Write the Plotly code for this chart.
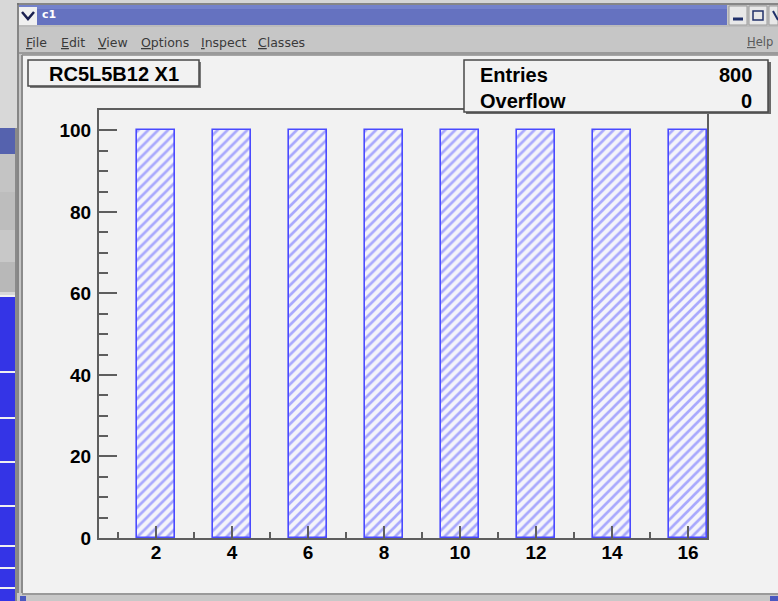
import plotly.graph_objects as go

# ---- data ----
bin_centers = [2, 4, 6, 8, 10, 12, 14, 16]
bin_counts = [100, 100, 100, 100, 100, 100, 100, 100]
x_tick_vals = [2, 4, 6, 8, 10, 12, 14, 16]
x_tick_text = ["2", "4", "6", "8", "10", "12", "14", "16"]
x_minor_vals = [1, 3, 5, 7, 9, 11, 13, 15]
y_tick_vals = [0, 20, 40, 60, 80, 100]
y_tick_text = ["0", "20", "40", "60", "80", "100"]
y_minor_vals = [5, 10, 15, 25, 30, 35, 45, 50, 55, 65, 70, 75, 85, 90, 95]
hist_title = "RC5L5B12 X1"
stats_labels = ["Entries", "Overflow"]
stats_values = ["800", "0"]
menu_items = ["<u>F</u>ile", "<u>E</u>dit", "<u>V</u>iew", "<u>O</u>ptions", "<u>I</u>nspect", "<u>C</u>lasses"]
window_title = "c1"

W, H = 778, 601
L, R, T, B = 99, 707, 110, 538
PW, PH = R - L, B - T

def px(x):
    return (x - L) / PW

def py(y):
    return (B - y) / PH

CANVAS = "#f2f2f2"
FONT = "Liberation Sans, Arial, sans-serif"

fig = go.Figure()
fig.add_trace(go.Bar(
    x=bin_centers, y=bin_counts, width=1.0,
    marker=dict(
        color="#f4f4fa",
        line=dict(color="#4a4aff", width=1.6),
        pattern=dict(shape="/", fgcolor="#5c5cff", bgcolor="#f4f4fa", size=7, solidity=0.38),
    ),
    hoverinfo="skip",
))

shapes = []

def rect(x0, y0, x1, y1, fill, line=None, lw=0, layer="below"):
    shapes.append(dict(type="rect", xref="paper", yref="paper",
                       x0=px(x0), x1=px(x1), y0=py(y0), y1=py(y1),
                       fillcolor=fill, layer=layer,
                       line=dict(color=line or fill, width=lw)))

def hline(x0, x1, y, color, w=1, layer="below"):
    shapes.append(dict(type="line", xref="paper", yref="paper",
                       x0=px(x0), x1=px(x1), y0=py(y), y1=py(y),
                       line=dict(color=color, width=w), layer=layer))

def vline(x, y0, y1, color, w=1, layer="below"):
    shapes.append(dict(type="line", xref="paper", yref="paper",
                       x0=px(x), x1=px(x), y0=py(y0), y1=py(y1),
                       line=dict(color=color, width=w), layer=layer))

# desktop background
rect(0, 0, W, 5, "#d6d6d6")
rect(0, 0, 17, H, "#d8d8d8")
# left background window pieces
rect(0, 128, 16, 154, "#5562ae")
rect(0, 154, 16, 192, "#c4c4c4")
rect(0, 192, 16, 230, "#bdbdbd")
rect(0, 230, 16, 262, "#c8c8c8")
rect(0, 262, 16, 292, "#b8b8b8")
rect(0, 296, 16, H, "#3434e6")
for yy in [296, 372, 418, 462, 506, 546, 568, 588]:
    hline(0, 16, yy, "#f0f0f0", 2)
vline(16, 128, H, "#8a8a8a", 2)

# window frame
rect(17, 3, W, H, "#c6c6c6")
vline(18, 3, H, "#707070", 1.5)
hline(17, W, 4, "#707070", 1.5)
# title bar
rect(19, 5, 727, 25, "#6572c0")
rect(19, 5, 727, 9, "#7482cc")
rect(19, 7, 37, 25, "#f0f0f0")
shapes.append(dict(type="path", xref="paper", yref="paper",
                   path=f"M {px(22)},{py(12)} L {px(28)},{py(19)} L {px(34)},{py(12)}",
                   line=dict(color="#1a2050", width=2.5), layer="below"))
# title bar buttons
for bx0, bx1 in [(729, 747), (749, 767), (769, 778)]:
    rect(bx0, 6, bx1, 25, "#e8e8e8", "#9a9a9a", 1)
hline(733, 743, 19, "#20306a", 3)
rect(753, 11, 763, 20, "#e8e8e8", "#20306a", 1.5)
shapes.append(dict(type="line", xref="paper", yref="paper",
                   x0=px(773), x1=px(778), y0=py(11), y1=py(20),
                   line=dict(color="#20306a", width=2), layer="below"))
# menu bar
rect(19, 26, W, 53, "#c6c6c6")
hline(19, W, 26, "#b0b0b0", 1)
hline(19, W, 53, "#9a9a9a", 2)
# canvas
rect(22, 55, W, 593, CANVAS)
vline(22, 55, 593, "#8c8c8c", 2)
hline(22, W, 55, "#8c8c8c", 1.5)
rect(17, 593, W, H, "#c8c8c8")
hline(22, W, 594, "#9a9a9a", 2)
rect(20, 596, 26, H, "#4a58c0")
rect(770, 596, W, H, "#4a58c0")

# title box (with shadow)
rect(30, 62, 201, 88, "#7a7a7a")
rect(28, 60, 199, 86, CANVAS, "#4a4a4a", 1.5)
# stats box (with shadow)
rect(466, 62, 771, 114, "#6a6a6a", layer="above")
rect(464, 60, 768, 112, CANVAS, "#4a4a4a", 1.5, layer="above")

annotations = []

def text(x, y, s, size, xanchor="left", color="black", bold=True, family=FONT):
    annotations.append(dict(xref="paper", yref="paper", x=px(x), y=py(y),
                            text=s, showarrow=False, xanchor=xanchor, yanchor="middle",
                            font=dict(family=family, size=size, color=color,
                                      weight="bold" if bold else "normal")))

text(113.5, 74, hist_title, 20, "center")
for i, (lab, val) in enumerate(zip(stats_labels, stats_values)):
    text(478, 75 + 26 * i, lab, 20)
    text(754, 75 + 26 * i, val, 20, "right")

menu_x = [24, 59, 96, 139, 199, 256]
for mx, m in zip(menu_x, menu_items):
    text(mx, 42, m, 12.5, "left", "#3a3a3a", False, "DejaVu Sans, sans-serif")
text(745, 42, "<u>H</u>elp", 11.5, "left", "#5a5a5a", False, "DejaVu Sans, sans-serif")
text(40, 15, window_title, 11, "left", "#ffffff", True, "DejaVu Sans, sans-serif")

axis_common = dict(
    showline=True, linecolor="#5e5e5e", linewidth=2, mirror=True,
    showgrid=False, zeroline=False, ticks="inside", tickcolor="#5e5e5e",
    tickwidth=2, tickmode="array",
    tickfont=dict(family=FONT, size=19, color="black", weight="bold"),
)

fig.update_layout(
    width=W, height=H,
    margin=dict(l=L, r=W - R, t=T, b=H - B, pad=0),
    paper_bgcolor=CANVAS, plot_bgcolor=CANVAS,
    showlegend=False,
    shapes=shapes, annotations=annotations,
    bargap=0,
    xaxis=dict(axis_common, range=[0.5, 16.5], tickvals=x_tick_vals, ticktext=x_tick_text,
               ticklen=12, ticklabelstandoff=-4,
               minor=dict(tickvals=x_minor_vals, ticklen=6, tickwidth=2,
                          tickcolor="#5e5e5e", ticks="inside")),
    yaxis=dict(axis_common, range=[0, 105], tickvals=y_tick_vals, ticktext=y_tick_text,
               ticklen=18, ticklabelstandoff=2,
               minor=dict(tickvals=y_minor_vals, ticklen=9, tickwidth=2,
                          tickcolor="#5e5e5e", ticks="inside")),
)

fig.write_html("out.html")
